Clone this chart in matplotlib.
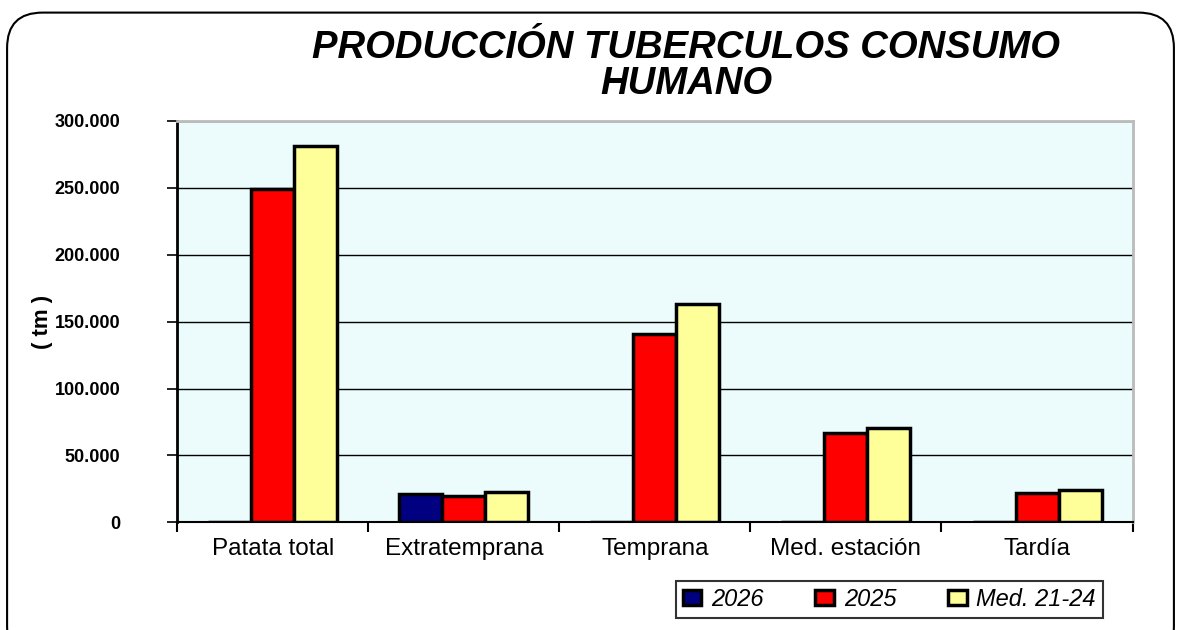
import matplotlib.pyplot as plt
import numpy as np
from matplotlib.patches import FancyBboxPatch
from matplotlib.ticker import FuncFormatter

categories = ["Patata total", "Extratemprana", "Temprana", "Med. estación", "Tardía"]
s2026 = [0, 21000, 0, 0, 0]
s2025 = [249500, 19800, 140500, 66500, 21700]
media = [281300, 22700, 163000, 70300, 24000]

fig = plt.figure(figsize=(11.81, 6.3), dpi=100)
ax = fig.add_axes([0.150, 0.171, 0.809, 0.637])

# rounded frame around the whole chart
frame = FancyBboxPatch((0.006, -0.05), 0.988, 1.03, boxstyle="round,pad=0,rounding_size=0.03",
                       transform=fig.transFigure, facecolor="none", edgecolor="black",
                       linewidth=1.5, mutation_aspect=1.87)
fig.patches.append(frame)

x = np.arange(len(categories))
w = 0.225
kw = dict(edgecolor="black", linewidth=2.5, zorder=3)
ax.bar(x - w, s2026, w, color="#000080", label="2026", **kw)
ax.bar(x, s2025, w, color="#ff0000", label="2025", **kw)
ax.bar(x + w, media, w, color="#ffff99", label="Med. 21-24", **kw)

ax.set_facecolor("#ecfcfc")
ax.set_xlim(-0.5, len(categories) - 0.5)
ax.set_ylim(0, 300000)
ax.set_yticks(np.arange(0, 300001, 50000))
ax.yaxis.set_major_formatter(FuncFormatter(lambda v, p: f"{int(v):,}".replace(",", ".")))
ax.yaxis.grid(True, color="black", linewidth=1, zorder=1)
ax.set_axisbelow(True)

ax.set_xticks(x)
ax.set_xticklabels(categories, fontsize=17.5, family="Liberation Sans")
ax.set_xticks(np.arange(-0.5, len(categories)), minor=True)
ax.tick_params(axis="x", which="major", length=0, pad=11)
ax.tick_params(axis="x", which="minor", length=7, width=1.5, direction="out")
ax.tick_params(axis="y", length=7, width=1.2, direction="out", pad=34)
for lab in ax.get_yticklabels():
    lab.set_fontweight("bold")
    lab.set_fontsize(13)
    lab.set_family("Liberation Sans")

for s in ["top", "right"]:
    ax.spines[s].set_color("#bbbbbb")
    ax.spines[s].set_linewidth(2)
ax.spines["left"].set_linewidth(2)
ax.spines["bottom"].set_linewidth(1.5)

fig.text(0.036, 0.489, "( tm )", rotation=90, fontsize=16, ha="center", va="center",
         family="Liberation Sans", fontweight="bold")

fig.text(0.581, 0.896, "PRODUCCIÓN TUBERCULOS CONSUMO\nHUMANO", ha="center", va="center",
         fontsize=27.5, fontweight="bold", fontstyle="italic", family="Liberation Sans",
         linespacing=1.0)

leg = fig.legend(loc="center", bbox_to_anchor=(0.753, 0.049), ncol=3, frameon=True,
                 fancybox=False, edgecolor="black",
                 prop={"family": "Liberation Sans", "style": "italic", "size": 17},
                 handlelength=0.8, handleheight=0.6, columnspacing=2.2, handletextpad=0.4,
                 borderpad=0.3)
leg.get_frame().set_linewidth(1.5)

fig.savefig("out.png", dpi=100)
